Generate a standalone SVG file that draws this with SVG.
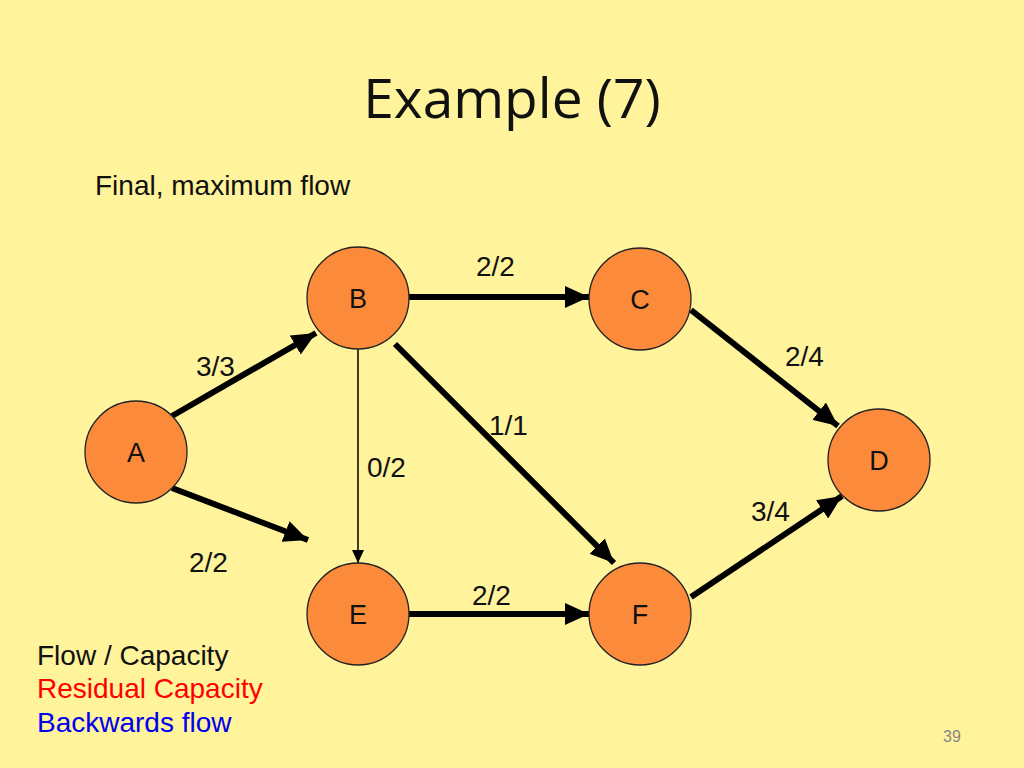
<svg xmlns="http://www.w3.org/2000/svg" width="1024" height="768" viewBox="0 0 1024 768">
<defs>
<style>
.node{fill:#FC8A3B;stroke:#222;stroke-width:1.3}
.nl{font-family:"Liberation Sans",Arial,sans-serif;font-size:27px;fill:#111;text-anchor:middle}
.lbl{font-family:"Liberation Sans",Arial,sans-serif;font-size:28px;fill:#111}
.thick{stroke:#000;stroke-width:6;fill:none;marker-end:url(#ah)}
.thin{stroke:#000;stroke-width:1.5;fill:none;marker-end:url(#ahs)}
</style>
<marker id="ah" markerUnits="userSpaceOnUse" markerWidth="26" markerHeight="22" refX="24" refY="11" orient="auto">
<path d="M0,0 L24,11 L0,22 Z" fill="#000"/>
</marker>
<marker id="ahs" markerUnits="userSpaceOnUse" markerWidth="14" markerHeight="14" refX="13" refY="6" orient="auto">
<path d="M0,0 L13,6 L0,12 Z" fill="#000"/>
</marker>
</defs>
<rect width="1024" height="768" fill="#FFF39C"/>
<text x="512" y="118" font-family="Open Sans,Liberation Sans,sans-serif" font-size="55" fill="#111" text-anchor="middle">Example (7)</text>
<text x="95" y="195" class="lbl">Final, maximum flow</text>
<g id="connectors">
<line class="thick" x1="172" y1="416" x2="316" y2="333"/>
<line class="thick" x1="172" y1="488" x2="308" y2="540"/>
<line class="thick" x1="409" y1="297" x2="589" y2="297"/>
<line class="thin" x1="358" y1="349" x2="358" y2="563"/>
<line class="thick" x1="395" y1="344" x2="614" y2="563"/>
<line class="thick" x1="691" y1="310" x2="838" y2="426"/>
<line class="thick" x1="691" y1="597" x2="842" y2="496"/>
<line class="thick" x1="409" y1="614" x2="589" y2="614"/>
<text x="196" y="376" class="lbl">3/3</text>
<text x="189" y="572" class="lbl">2/2</text>
<text x="476" y="276" class="lbl">2/2</text>
<text x="367" y="477" class="lbl">0/2</text>
<text x="489" y="435" class="lbl">1/1</text>
<text x="785" y="366" class="lbl">2/4</text>
<text x="751" y="521" class="lbl">3/4</text>
<text x="472" y="605" class="lbl">2/2</text>
</g>
<g id="A"><circle class="node" cx="136" cy="452" r="51"/><text class="nl" x="136" y="462">A</text></g>
<g id="B"><circle class="node" cx="358" cy="298" r="51"/><text class="nl" x="358" y="308">B</text></g>
<g id="C"><circle class="node" cx="640" cy="299" r="51"/><text class="nl" x="640" y="309">C</text></g>
<g id="D"><circle class="node" cx="879" cy="460" r="51"/><text class="nl" x="879" y="470">D</text></g>
<g id="E"><circle class="node" cx="358" cy="614" r="51"/><text class="nl" x="358" y="624">E</text></g>
<g id="F"><circle class="node" cx="640" cy="614" r="51"/><text class="nl" x="640" y="624">F</text></g>
<text x="37" y="665" class="lbl">Flow / Capacity</text>
<text x="37" y="698" class="lbl" style="fill:#FF0000">Residual Capacity</text>
<text x="37" y="732" class="lbl" style="fill:#0000EE">Backwards flow</text>
<text x="943" y="742" font-family="Liberation Sans,Arial,sans-serif" font-size="16" fill="#888">39</text>
</svg>
